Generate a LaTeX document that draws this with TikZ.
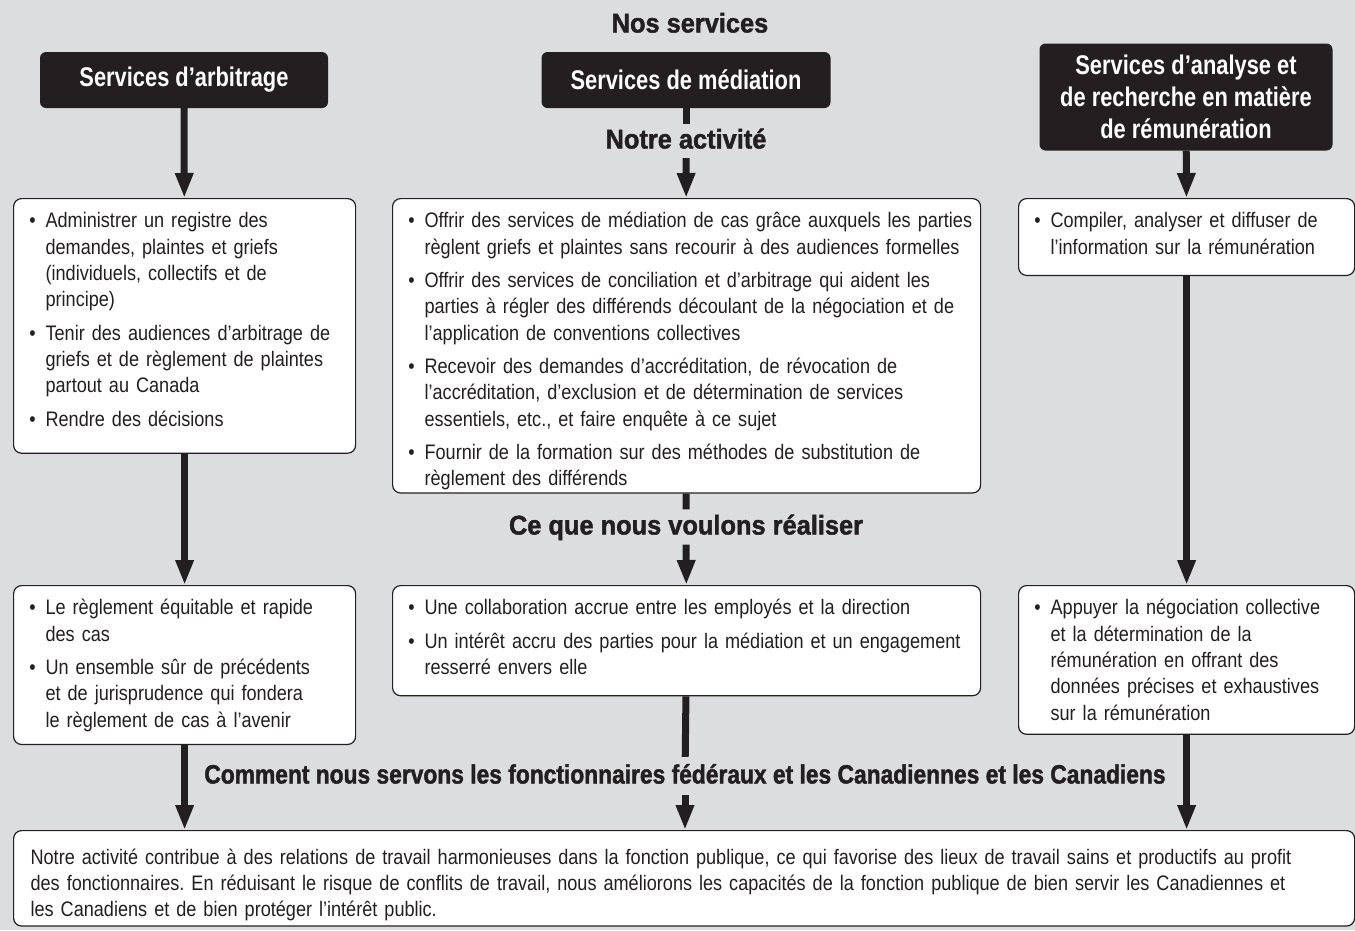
\documentclass[tikz,border=0pt]{standalone}
\usepackage{fontspec}
\setmainfont{Liberation Sans}[FakeStretch=0.862, WordSpace=0.75]
\newfontfamily\headfont{Liberation Sans}[FakeStretch=0.94, FakeBold=1.6]
\newfontfamily\impactfont{Liberation Sans}[FakeStretch=0.86, FakeBold=1.6]
\newfontfamily\titlefont{Liberation Sans}[FakeStretch=0.81]
\usepackage{enumitem}
\setlist[itemize]{label=\textbullet, leftmargin=28pt, labelsep=10pt, itemsep=7pt, topsep=0pt, parsep=0pt, partopsep=0pt}
\frenchspacing
\usetikzlibrary{arrows.meta}

\definecolor{bggray}{RGB}{220,221,223}
\definecolor{ink}{RGB}{35,31,32}

\tikzset{
  service/.style={fill=ink, rounded corners=6pt, text=white, align=center,
    font=\titlefont\bfseries\fontsize{27}{32}\selectfont, inner sep=0pt},
  card/.style={draw=ink, fill=white, line width=1.2pt, rounded corners=8pt,
    anchor=north west, inner xsep=4pt, inner ysep=3pt, align=left, text=ink,
    font=\fontsize{21}{26.3}\selectfont, execute at end node={\par\vspace{#1}}},
  card/.default=0pt,
  stage/.style={text=ink, inner sep=0pt, text height=20pt, text depth=5pt,
    font=\headfont\bfseries\fontsize{27}{32}\selectfont},
  link/.style={draw=ink, line width=7pt},
  tip/.style={-{Triangle[width=17pt,length=25pt]}}
}

\begin{document}
\begin{tikzpicture}[x=1pt, y=-1pt]

% background
\fill [bggray] (0,0) rectangle (1355,930);
\useasboundingbox (0,0) rectangle (1355,930);

% define services
\node [stage] (title) at (690,25) {Nos services};

\node [service, minimum width=288pt, minimum height=56pt] (service-arb) at (184,80)
  {Services d’arbitrage};
\node [service, minimum width=289pt, minimum height=56pt] (service-med) at (686,80)
  {Services de médiation};
\node [service, minimum width=293pt, minimum height=107pt] (service-ana) at (1186,97)
  {Services d’analyse et\\de recherche en matière\\de rémunération};

% define stage titles
\node [stage, minimum height=34pt] (activityTitle) at (686,141) {Notre activité};
\node [stage, minimum height=35pt] (goalTitle) at (686,527) {Ce que nous voulons réaliser};
\node [stage, minimum height=38pt, font=\impactfont\bfseries\fontsize{26.5}{32}\selectfont]
  (impactTitle) at (685,776)
  {Comment nous servons les fonctionnaires fédéraux et les Canadiennes et les Canadiens};

% define activity cards
\node [card=24pt, text width=334pt] (activity-arb) at (13,198) {%
  \begin{itemize}
  \item Administrer un registre des\\demandes, plaintes et griefs\\(individuels, collectifs et de\\principe)
  \item Tenir des audiences d’arbitrage de\\griefs et de règlement de plaintes\\partout au Canada
  \item Rendre des décisions
  \end{itemize}};

\node [card, text width=580pt] (activity-med) at (392,198) {%
  \begin{itemize}
  \item Offrir des services de médiation de cas grâce auxquels les parties\\règlent griefs et plaintes sans recourir à des audiences formelles
  \item Offrir des services de conciliation et d’arbitrage qui aident les\\parties à régler des différends découlant de la négociation et de\\l’application de conventions collectives
  \item Recevoir des demandes d’accréditation, de révocation de\\l’accréditation, d’exclusion et de détermination de services\\essentiels, etc., et faire enquête à ce sujet
  \item Fournir de la formation sur des méthodes de substitution de\\règlement des différends
  \end{itemize}};

\node [card=18pt, text width=328pt] (activity-ana) at (1018,198) {%
  \begin{itemize}
  \item Compiler, analyser et diffuser de\\l’information sur la rémunération
  \end{itemize}};

% define goal cards
\node [card=10pt, text width=334pt] (goal-arb) at (13,585) {%
  \begin{itemize}
  \item Le règlement équitable et rapide\\des cas
  \item Un ensemble sûr de précédents\\et de jurisprudence qui fondera\\le règlement de cas à l’avenir
  \end{itemize}};

\node [card=18pt, text width=580pt] (goal-med) at (392,585) {%
  \begin{itemize}
  \item Une collaboration accrue entre les employés et la direction
  \item Un intérêt accru des parties pour la médiation et un engagement\\resserré envers elle
  \end{itemize}};

\node [card=11pt, text width=328pt] (goal-ana) at (1018,585) {%
  \begin{itemize}
  \item Appuyer la négociation collective\\et la détermination de la\\rémunération en offrant des\\données précises et exhaustives\\sur la rémunération
  \end{itemize}};

% define impact card
\node [card=-13pt, text width=1307pt, inner xsep=17pt, inner ysep=18pt] (impact) at (13,830)
  {Notre activité contribue à des relations de travail harmonieuses dans la fonction publique, ce qui favorise des lieux de travail sains et productifs au profit\\des fonctionnaires. En réduisant le risque de conflits de travail, nous améliorons les capacités de la fonction publique de bien servir les Canadiennes et\\les Canadiens et de bien protéger l’intérêt public.};

% connect services to activities
\foreach \s in {arb,ana}
  \draw [link, tip] (service-\s) -- (activity-\s);
\draw [link] (service-med) -- (activityTitle);
\draw [link, tip] (activityTitle) -- (activity-med);

% connect activities to goals
\foreach \s in {arb,ana}
  \draw [link, tip] (activity-\s) -- (goal-\s);
\draw [link] (activity-med) -- (goalTitle);
\draw [link, tip] (goalTitle) -- (goal-med);

% connect goals to impact
\foreach \s in {arb,ana}
  \draw [link, tip] (goal-\s) -- (goal-\s |- impact.north);
\draw [link] (goal-med) -- (impactTitle);
\draw [link, tip] (impactTitle) -- (impactTitle |- impact.north);

\end{tikzpicture}
\end{document}
